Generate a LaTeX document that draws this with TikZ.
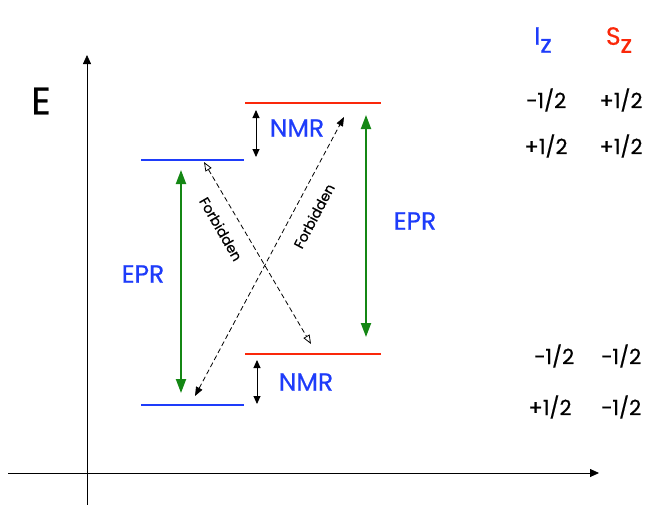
\documentclass[tikz,border=0pt]{standalone}
\usepackage{fontspec}
\setmainfont{Poppins}[FakeBold=0.6]
\usepackage{xcolor}
\usetikzlibrary{arrows.meta}

\definecolor{lvred}{RGB}{250,40,10}
\definecolor{lvblue}{RGB}{30,60,250}
\definecolor{eprgreen}{RGB}{20,135,20}

\begin{document}
\begin{tikzpicture}[
    x=1pt, y=-1pt,
    level/.style={line width=2pt},
    redlevel/.style={level, draw=lvred},
    bluelevel/.style={level, draw=lvblue},
    axis/.style={-{Triangle[length=9pt,width=8pt]}, line width=0.8pt},
    nmr/.style={{Triangle[length=8pt,width=7pt]}-{Triangle[length=8pt,width=7pt]}, line width=0.9pt},
    epr/.style={{Triangle[length=14pt,width=10pt]}-{Triangle[length=14pt,width=10pt]}, line width=2pt, draw=eprgreen},
    forbid/.style={dash pattern=on 5pt off 3pt, line width=0.8pt},
    tlabel/.style={text=lvblue, font=\fontsize{25}{27}\selectfont},
    flabel/.style={font=\fontsize{14}{16}\selectfont},
    spin/.style={font=\fontsize{21}{23}\selectfont},
    head/.style={font=\fontsize{25}{27}\selectfont}
]
\useasboundingbox (0,0) rectangle (648,504);

% axes
\coordinate (origin) at (87,473);
\draw[axis] (87,510) -- (87,55);
\draw[axis] (8,473) -- (599,473);
\node[font=\fontsize{38}{40}\selectfont] (elabel) at (41,101) {E};

% energy levels
\coordinate (ra1) at (245,103);  \coordinate (ra2) at (381,103);
\coordinate (ba1) at (141,160);  \coordinate (ba2) at (244,160);
\coordinate (rb1) at (245,354);  \coordinate (rb2) at (381,354);
\coordinate (bb1) at (141,405);  \coordinate (bb2) at (244,405);
\draw[redlevel] (ra1) -- (ra2);
\draw[bluelevel] (ba1) -- (ba2);
\draw[redlevel] (rb1) -- (rb2);
\draw[bluelevel] (bb1) -- (bb2);

% NMR transitions
\coordinate (nmrAt) at (256,110);  \coordinate (nmrAb) at (256,157);
\coordinate (nmrBt) at (257,360);  \coordinate (nmrBb) at (257,404);
\draw[nmr] (nmrAt) -- (nmrAb);
\draw[nmr] (nmrBt) -- (nmrBb);
\node[tlabel] (nmrA) at (297,128) {NMR};
\node[tlabel] (nmrB) at (306,382) {NMR};

% EPR transitions
\coordinate (eprAt) at (181,170);  \coordinate (eprAb) at (181,393);
\coordinate (eprBt) at (366,115);  \coordinate (eprBb) at (366,337);
\draw[epr] (eprAt) -- (eprAb);
\draw[epr] (eprBt) -- (eprBb);
\node[tlabel] (eprA) at (143,274) {EPR};
\node[tlabel] (eprB) at (415,221) {EPR};

% forbidden transitions
\coordinate (fAt) at (204,162);  \coordinate (fAb) at (311,344);
\coordinate (fBb) at (195,396);  \coordinate (fBt) at (344,117);
\draw[forbid, {Triangle[open,length=9pt,width=7pt]}-{Triangle[open,length=9pt,width=7pt]}] (fAt) -- (fAb);
\draw[forbid, {Triangle[length=9pt,width=7pt]}-{Triangle[length=9pt,width=7pt]}] (fBb) -- (fBt);
\node[flabel, rotate=-60] (forbA) at (221,229) {Forbidden};
\node[flabel, rotate=62] (forbB) at (314,216) {Forbidden};

% spin quantum numbers
\node[head, text=lvblue] (iz) at (543,40) {I\raisebox{-8pt}{z}};
\node[head, text=lvred] (sz) at (619,40) {S\raisebox{-8pt}{z}};
\node[spin] (i1) at (546,100) {−1/2};
\node[spin] (s1) at (621,100) {+1/2};
\node[spin] (i2) at (546,146) {+1/2};
\node[spin] (s2) at (621,146) {+1/2};
\node[spin] (i3) at (554,356) {−1/2};
\node[spin] (s3) at (621,356) {−1/2};
\node[spin] (i4) at (550,407) {+1/2};
\node[spin] (s4) at (621,407) {−1/2};
\end{tikzpicture}
\end{document}
